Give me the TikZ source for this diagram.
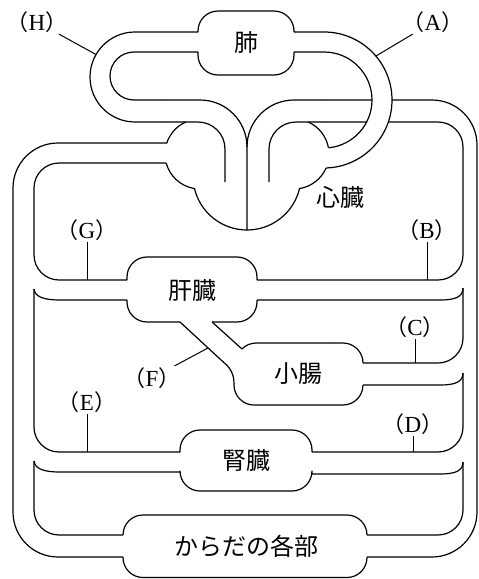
\documentclass[tikz,border=0pt]{standalone}
\usepackage{fontspec}
\setmainfont{Liberation Serif}
\newfontfamily\jp{Noto Sans CJK JP}
\usetikzlibrary{calc}

\begin{document}
\begin{tikzpicture}[x=1pt,y=-1pt,line width=1.2pt,line join=round]
   \useasboundingbox (0,0) rectangle (479,579);
   \tikzstyle{organ}=[font=\jp\fontsize{24}{24}\selectfont, inner sep=0pt]
   \tikzstyle{tag}=[font=\fontsize{23}{23}\selectfont, inner sep=1pt]
   \tikzstyle{lead}=[line width=1pt]
   \tikzstyle{blob}=[rounded corners=20pt]
   % lungs
   \draw[blob] (198,32) -- (198,11) -- (294,11) -- (294,32);
   \draw[blob] (198,52) -- (198,75) -- (294,75) -- (294,52);
   \node[organ] (lung) at (246,43) {肺};
   % loop (H), septum
   \draw[rounded corners=45pt] (198,32) -- (90,32) -- (90,122) -- (165,122);
   \draw[rounded corners=27pt] (165,122) -- (225,122) -- (225,182);
   \draw[rounded corners=24pt] (198,52) -- (110,52) -- (110,100) -- (165,100);
   \draw[rounded corners=47pt] (165,100) -- (247,100) -- (247,230);
   % aorta, right side
   \draw[rounded corners=47pt] (247,147) -- (247,100) -- (325,100);
   \draw[rounded corners=45pt] (325,100) -- (477,100) -- (477,557) -- (367,557);
   \draw[rounded corners=27pt] (269,182) -- (269,122) -- (325,122);
   \draw[rounded corners=25pt] (325,122) -- (463,122) -- (463,280) -- (257,280);
   \draw (257,300) -- (440,300) .. controls (455,300) and (463,297) .. (463,288);
   \draw[rounded corners=25pt] (463,288) -- (463,363) -- (363,363);
   \draw (363,385) -- (440,385) .. controls (455,385) and (463,382) .. (463,373);
   \draw[rounded corners=25pt] (463,373) -- (463,452) -- (312,452);
   \draw (312,474) -- (440,474) .. controls (455,474) and (463,471) .. (463,462);
   \draw[rounded corners=25pt] (463,462) -- (463,535) -- (367,535);
   % vena cava, left side
   \draw[rounded corners=45pt] (167,143) -- (13,143) -- (13,557) -- (123,557);
   \draw[rounded corners=25pt] (166,163) -- (34,163) -- (34,280) -- (127,280);
   \draw (127,300) -- (60,300) .. controls (44,300) and (35,297) .. (34,289);
   \draw[rounded corners=25pt] (34,289) -- (34,452) -- (180,452);
   \draw (180,472) -- (60,472) .. controls (44,472) and (35,469) .. (34,461);
   \draw[rounded corners=25pt] (34,461) -- (34,535) -- (123,535);
   % heart
   \coordinate (heart) at (247,176);
   \coordinate (ra) at (200,154);
   \coordinate (la) at (294,154);
   \draw (heart) ++(167:54) arc[start angle=167, end angle=13, radius=54];
   \draw (ra) ++(246.1:35) arc[start angle=246.1, end angle=198.3, radius=35];
   \draw (ra) ++(165.1:35) arc[start angle=165.1, end angle=100, radius=35];
   \draw (la) ++(-66.1:35) arc[start angle=-66.1, end angle=-10.3, radius=35];
   \draw (la) ++(23.6:35) arc[start angle=23.6, end angle=80, radius=35];
   \node[organ] (heartname) at (340,197) {心臓};
   % loop (A) over the aorta
   \coordinate (pa) at (324,100);
   \fill[white] (pa) ++(-90:68) arc[start angle=-90, end angle=88.2, radius=68]
      -- ($(pa)+(84.6:48)$) arc[start angle=84.6, end angle=-90, radius=48] -- cycle;
   \draw (294,32) -- (324,32) arc[start angle=-90, end angle=88.2, radius=68];
   \draw (294,52) -- (324,52) arc[start angle=-90, end angle=84.6, radius=48];
   % liver, portal vein, intestine
   \draw[blob] (127,280) -- (127,257) -- (257,257) -- (257,280);
   \draw[blob] (127,300) -- (127,322) -- (180,322);
   \draw[blob] (212,322) -- (257,322) -- (257,300);
   \node[organ] (liver) at (192,290) {肝臓};
   \draw[rounded corners=8pt] (180,322) -- (233,371) -- (234,383);
   \draw[blob] (234,383) -- (234,405) -- (363,405) -- (363,385);
   \draw (212,322) -- (242,349) .. controls (246,345) and (250,343) .. (258,343) -- (335,343);
   \draw[blob] (335,343) -- (363,343) -- (363,363);
   \node[organ] (gut) at (298,374) {小腸};
   % kidney
   \draw[blob] (180,452) -- (180,430) -- (312,430) -- (312,452);
   \draw[blob] (180,472) -- (180,491) -- (312,491) -- (312,474);
   \node[organ] (kidney) at (246,460) {腎臓};
   % body
   \draw[blob] (123,535) -- (123,515) -- (367,515) -- (367,535);
   \draw[blob] (123,557) -- (123,577.5) -- (367,577.5) -- (367,557);
   \node[organ] (body) at (246,546) {からだの各部};
   % labels
   \foreach \n/\lx/\ly/\px/\py in {H/37/22/96/54.5, A/433/22/376/56, G/87/230/87/280,
         B/427/230/427/280, C/415/327/415/363, D/413/424/413/452, E/87/402/87/452,
         F/152/378/208/348} {
      \node[tag] (lab\n) at (\lx,\ly) {{\jp\fontsize{22}{22}\selectfont （}\n{\jp\fontsize{22}{22}\selectfont ）}};
      \coordinate (p\n) at (\px,\py);
      \draw[lead] (lab\n) -- (p\n);
   }
\end{tikzpicture}
\end{document}
